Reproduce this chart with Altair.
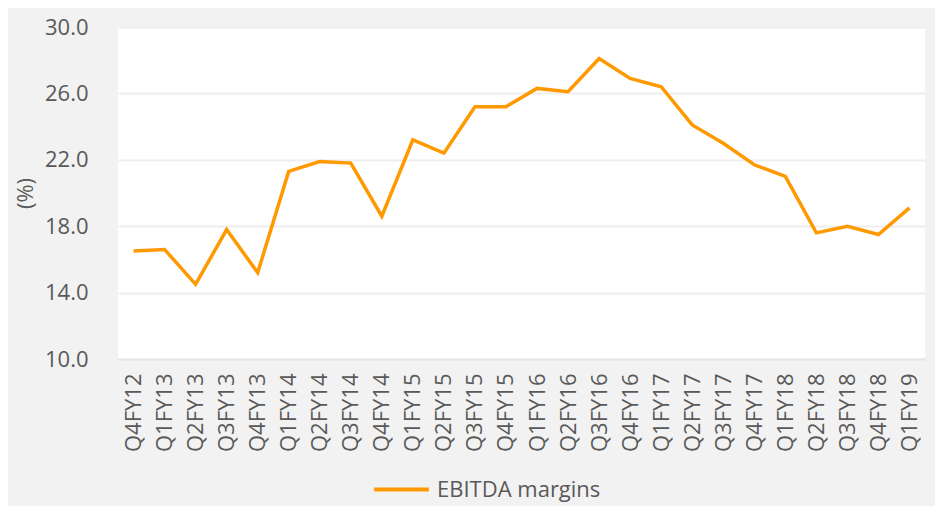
import altair as alt
import pandas as pd

quarters = ["Q4FY12", "Q1FY13", "Q2FY13", "Q3FY13", "Q4FY13", "Q1FY14", "Q2FY14",
            "Q3FY14", "Q4FY14", "Q1FY15", "Q2FY15", "Q3FY15", "Q4FY15", "Q1FY16",
            "Q2FY16", "Q3FY16", "Q4FY16", "Q1FY17", "Q2FY17", "Q3FY17", "Q4FY17",
            "Q1FY18", "Q2FY18", "Q3FY18", "Q4FY18", "Q1FY19"]
margins = [16.5, 16.6, 14.5, 17.8, 15.2, 21.3, 21.9, 21.8, 18.6, 23.2, 22.4, 25.2,
           25.2, 26.3, 26.1, 28.1, 26.9, 26.4, 24.1, 23.0, 21.7, 21.0, 17.6, 18.0,
           17.5, 19.1]
series_name = "EBITDA margins"
y_ticks = [10, 14, 18, 22, 26, 30]

df = pd.DataFrame({"quarter": quarters, "margin": margins, "series": series_name})

FONT = "Open Sans"
TXT = "#595959"

chart = alt.Chart(df).mark_line(strokeWidth=3.5, strokeJoin="miter").encode(
    x=alt.X("quarter:O", sort=quarters, title=None,
            scale=alt.Scale(type="point", padding=0.5),
            axis=alt.Axis(labelAngle=270, labelFont=FONT, labelFontSize=22,
                          labelColor=TXT, labelPadding=14, ticks=False,
                          domain=True, domainColor="#e6e6e6", domainWidth=2,
                          grid=False)),
    y=alt.Y("margin:Q", title="(%)",
            scale=alt.Scale(domain=[10, 30], nice=False, zero=False),
            axis=alt.Axis(values=y_ticks, format=".1f", labelFont=FONT,
                          labelFontSize=22, labelColor=TXT, labelPadding=30,
                          ticks=False, domain=False, gridColor="#eeeeee",
                          gridWidth=2, titleFont=FONT, titleFontSize=22,
                          titleFontWeight="normal", titleColor=TXT,
                          titlePadding=7)),
    color=alt.Color("series:N", scale=alt.Scale(range=["#FF9900"]),
                    legend=alt.Legend(title=None, orient="none", legendX=254,
                                      legendY=433, symbolType="stroke",
                                      symbolSize=3000, symbolStrokeWidth=4,
                                      labelFont=FONT, labelFontSize=22,
                                      labelColor=TXT, labelOffset=6, padding=0,
                                      labelLimit=400)),
).properties(
    width=807, height=332,
    background="#f2f2f2",
    autosize=alt.AutoSizeParams(type="none"),
    padding={"left": 110, "top": 19, "right": 10, "bottom": 147},
).configure_view(fill="white", stroke=None)

chart.save("out.html", embed_options={"renderer": "svg", "actions": False})
